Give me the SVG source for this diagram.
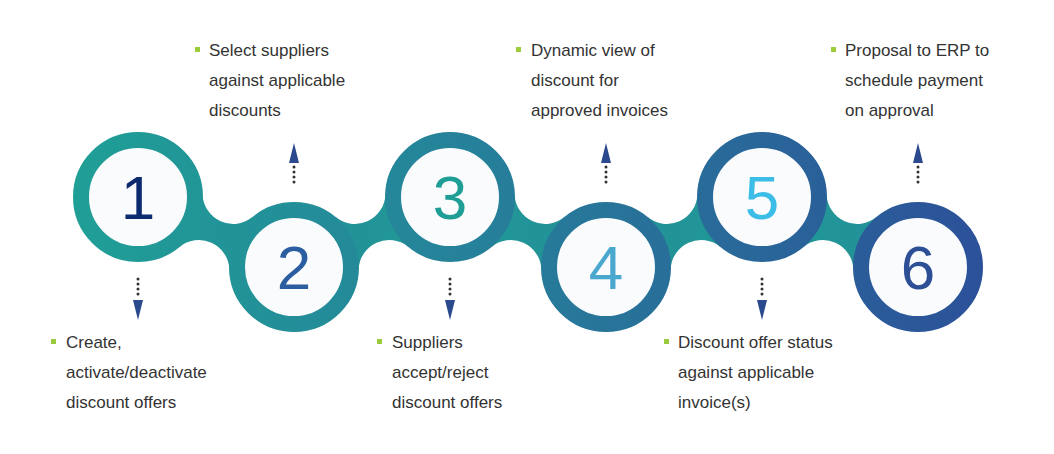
<svg xmlns="http://www.w3.org/2000/svg" width="1054" height="454" viewBox="0 0 1054 454">
<defs>
<linearGradient id="g" gradientUnits="userSpaceOnUse" x1="73" y1="0" x2="983" y2="0">
<stop offset="0" stop-color="#1f9f96"/><stop offset="0.45" stop-color="#26809a"/><stop offset="1" stop-color="#2c5199"/>
</linearGradient>
<path id="neck" d="M202.6 194.3 A30.5 30.5 0 0 0 252.7 216.8 L229.4 269.7 A30.5 30.5 0 0 0 179.3 247.2 Z"/>
<marker id="ad" viewBox="0 0 10 20" refX="5" refY="20" markerWidth="10" markerHeight="20" markerUnits="userSpaceOnUse" orient="auto-start-reverse"><path d="M0 0 L10 0 L5 20 Z" fill="#2b4a8e"/></marker>
</defs>
<style>
.ring{fill:#fafbfd;stroke:url(#g);stroke-width:16}
.num{font-family:"Liberation Sans",Arial,sans-serif;font-size:62px;text-anchor:middle}
.t{font-family:"Liberation Sans",Arial,sans-serif;font-size:17px;fill:#333}
.b{fill:#9ccb3b}
.dot{stroke:#333;stroke-width:3;stroke-dasharray:0 5;stroke-linecap:round;fill:none}
.ah{fill:#2b4a8e}
</style>
<rect width="1054" height="454" fill="#fff"/>
<g id="connectors">
<use href="#neck" fill="url(#g)"/>
<use href="#neck" fill="url(#g)" transform="translate(312,0)"/>
<use href="#neck" fill="url(#g)" transform="translate(624,0)"/>
<use href="#neck" fill="url(#g)" transform="translate(588,0) scale(-1,1)"/>
<use href="#neck" fill="url(#g)" transform="translate(900,0) scale(-1,1)"/>
<path class="dot" d="M138 279 V298"/><path class="ah" d="M133 300 H143 L138 320 Z"/>
<path class="dot" d="M450 279 V298"/><path class="ah" d="M445 300 H455 L450 320 Z"/>
<path class="dot" d="M762 279 V298"/><path class="ah" d="M757 300 H767 L762 320 Z"/>
<path class="dot" d="M294 167 V187"/><path class="ah" d="M289 163 H299 L294 143 Z"/>
<path class="dot" d="M606 167 V187"/><path class="ah" d="M601 163 H611 L606 143 Z"/>
<path class="dot" d="M918 167 V187"/><path class="ah" d="M913 163 H923 L918 143 Z"/>
</g>
<g id="n1"><circle class="ring" cx="138" cy="197" r="57"/><text class="num" x="138" y="219" fill="#0c2a6e">1</text>
<rect class="b" x="51" y="339" width="5" height="5"/><text class="t" x="66" y="348">Create,</text><text class="t" x="66" y="378">activate/deactivate</text><text class="t" x="66" y="408">discount offers</text></g>
<g id="n2"><circle class="ring" cx="294" cy="267" r="57"/><text class="num" x="294" y="289" fill="#2b5ea0">2</text>
<rect class="b" x="195" y="47" width="5" height="5"/><text class="t" x="209" y="56">Select suppliers</text><text class="t" x="209" y="86">against applicable</text><text class="t" x="209" y="116">discounts</text></g>
<g id="n3"><circle class="ring" cx="450" cy="197" r="57"/><text class="num" x="450" y="219" fill="#1f9e96">3</text>
<rect class="b" x="377" y="339" width="5" height="5"/><text class="t" x="392" y="348">Suppliers</text><text class="t" x="392" y="378">accept/reject</text><text class="t" x="392" y="408">discount offers</text></g>
<g id="n4"><circle class="ring" cx="606" cy="267" r="57"/><text class="num" x="606" y="289" fill="#4aa8cf">4</text>
<rect class="b" x="516" y="47" width="5" height="5"/><text class="t" x="531" y="56">Dynamic view of</text><text class="t" x="531" y="86">discount for</text><text class="t" x="531" y="116">approved invoices</text></g>
<g id="n5"><circle class="ring" cx="762" cy="197" r="57"/><text class="num" x="762" y="219" fill="#3bbde8">5</text>
<rect class="b" x="664" y="339" width="5" height="5"/><text class="t" x="678" y="348">Discount offer status</text><text class="t" x="678" y="378">against applicable</text><text class="t" x="678" y="408">invoice(s)</text></g>
<g id="n6"><circle class="ring" cx="918" cy="267" r="57"/><text class="num" x="918" y="289" fill="#2d4f96">6</text>
<rect class="b" x="831" y="47" width="5" height="5"/><text class="t" x="845" y="56">Proposal to ERP to</text><text class="t" x="845" y="86">schedule payment</text><text class="t" x="845" y="116">on approval</text></g>
</svg>
